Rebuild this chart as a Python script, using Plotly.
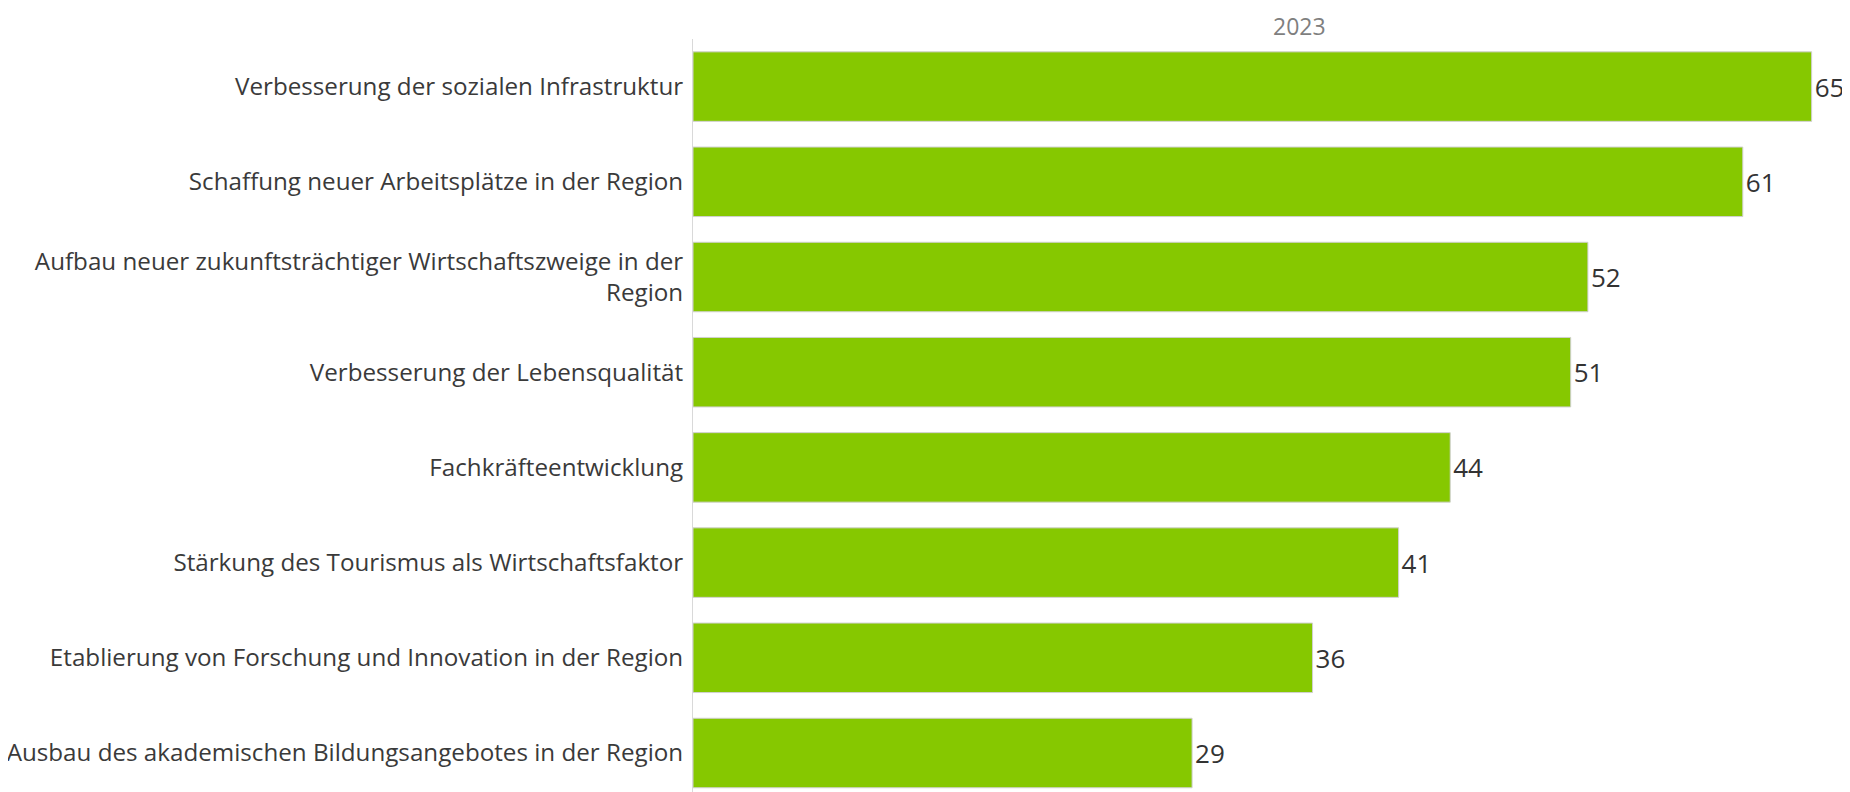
import plotly.graph_objects as go

categories = [
    "Verbesserung der sozialen Infrastruktur",
    "Schaffung neuer Arbeitsplätze in der Region",
    "Aufbau neuer zukunftsträchtiger Wirtschaftszweige in der<br>Region",
    "Verbesserung der Lebensqualität",
    "Fachkräfteentwicklung",
    "Stärkung des Tourismus als Wirtschaftsfaktor",
    "Etablierung von Forschung und Innovation in der Region",
    "Ausbau des akademischen Bildungsangebotes in der Region",
]
values = [65, 61, 52, 51, 44, 41, 36, 29]
column_header = "2023"

W, H = 1842, 784
L, R, T, B = 685, 20, 31, 0
px_per_unit = 17.21
xmax = (W - L - R) / px_per_unit
plot_h = H - T - B
pitch = 95.2
y_lo = -0.5 + plot_h / pitch

fig = go.Figure(go.Bar(
    x=values, y=categories, orientation="h",
    marker=dict(color="#86C800", line=dict(color="#D0D0D0", width=1)),
    width=0.73,
    text=[str(v) for v in values], textposition="outside",
    textfont=dict(family="Open Sans", size=26, color="#333333"),
    cliponaxis=False,
))

fig.update_layout(
    width=W, height=H,
    margin=dict(l=L, r=R, t=T, b=B, pad=0, autoexpand=False),
    paper_bgcolor="white", plot_bgcolor="white",
    showlegend=False,
    xaxis=dict(range=[0, xmax], showgrid=False, zeroline=False, automargin=False,
               showticklabels=False, showline=False, fixedrange=True),
    yaxis=dict(type="category", categoryorder="array", categoryarray=categories,
               range=[y_lo, -0.5], showgrid=False, zeroline=False, automargin=False,
               showline=True, linecolor="#D9D9D9", linewidth=1,
               ticks="", ticklabelstandoff=4,
               tickfont=dict(family="Open Sans", size=24.2, color="#3a3a3a")),
    annotations=[dict(text=column_header, xref="paper", yref="paper",
                      x=(1291 - L) / (W - L - R), y=1, yshift=T,
                      xanchor="center", yanchor="top", showarrow=False,
                      font=dict(family="Open Sans", size=23, color="#7F7F7F"))],
)

fig.write_html("out.html")
